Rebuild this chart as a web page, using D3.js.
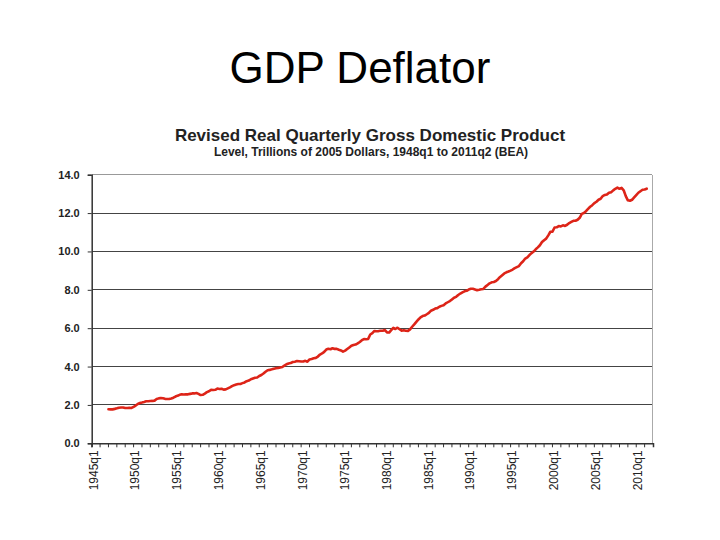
<!DOCTYPE html>
<html>
<head>
<meta charset="utf-8">
<script src="https://cdn.jsdelivr.net/npm/d3@7"></script>
<style>
  html, body { margin: 0; padding: 0; background: #fff; }
  svg { display: block; }
</style>
</head>
<body>
<svg id="chart" width="720" height="540"></svg>
<script>
// ---- Data (trillions of chained 2005 dollars, quarterly, first value = 1947q1) ----
const pageTitle = "GDP Deflator";
const chartTitle = "Revised Real Quarterly Gross Domestic Product";
const chartSubtitle = "Level, Trillions of 2005 Dollars, 1948q1 to 2011q2 (BEA)";

const axisFirstYear = 1945;
const axisLastYear = 2011;
const seriesStart = "1947q1";

const gdp = [
  1.772, 1.770, 1.768, 1.794,   // 1947
  1.823, 1.856, 1.866, 1.868,   // 1948
  1.842, 1.837, 1.853, 1.841,   // 1949
  1.904, 1.968, 2.051, 2.097,   // 1950
  2.124, 2.154, 2.188, 2.190,   // 1951
  2.206, 2.209, 2.226, 2.308,   // 1952
  2.342, 2.362, 2.350, 2.316,   // 1953
  2.308, 2.311, 2.336, 2.377,   // 1954
  2.436, 2.483, 2.525, 2.553,   // 1955
  2.543, 2.555, 2.552, 2.576,   // 1956
  2.601, 2.600, 2.623, 2.577,   // 1957
  2.514, 2.530, 2.591, 2.665,   // 1958
  2.712, 2.786, 2.778, 2.788,   // 1959
  2.852, 2.833, 2.846, 2.799,   // 1960
  2.812, 2.864, 2.914, 2.978,   // 1961
  3.030, 3.065, 3.090, 3.094,   // 1962
  3.135, 3.174, 3.240, 3.270,   // 1963
  3.338, 3.377, 3.414, 3.427,   // 1964
  3.510, 3.560, 3.637, 3.731,   // 1965
  3.810, 3.826, 3.856, 3.889,   // 1966
  3.917, 3.925, 3.952, 3.976,   // 1967
  4.052, 4.121, 4.163, 4.183,   // 1968
  4.238, 4.254, 4.285, 4.273,   // 1969
  4.263, 4.265, 4.299, 4.252,   // 1970
  4.372, 4.396, 4.432, 4.452,   // 1971
  4.521, 4.625, 4.682, 4.764,   // 1972
  4.885, 4.924, 4.903, 4.956,   // 1973
  4.920, 4.922, 4.877, 4.842,   // 1974
  4.778, 4.829, 4.912, 4.997,   // 1975
  5.084, 5.124, 5.148, 5.207,   // 1976
  5.282, 5.373, 5.436, 5.420,   // 1977
  5.441, 5.672, 5.740, 5.856,   // 1978
  5.842, 5.849, 5.866, 5.864,   // 1979
  5.903, 5.782, 5.772, 5.899,   // 1980
  6.019, 5.958, 6.024, 5.945,   // 1981
  5.870, 5.890, 5.864, 5.860,   // 1982
  5.940, 6.075, 6.198, 6.331,   // 1983
  6.455, 6.564, 6.631, 6.659,   // 1984
  6.727, 6.800, 6.912, 6.957,   // 1985
  7.021, 7.046, 7.118, 7.163,   // 1986
  7.200, 7.288, 7.352, 7.413,   // 1987
  7.500, 7.590, 7.634, 7.731,   // 1988
  7.806, 7.866, 7.921, 7.950,   // 1989
  8.015, 8.052, 8.052, 8.017,   // 1990
  7.983, 8.004, 8.028, 8.046,   // 1991
  8.166, 8.252, 8.339, 8.391,   // 1992
  8.409, 8.457, 8.552, 8.674,   // 1993
  8.763, 8.855, 8.912, 8.954,   // 1994
  9.001, 9.056, 9.133, 9.186,   // 1995
  9.237, 9.383, 9.486, 9.630,   // 1996
  9.695, 9.814, 9.911, 9.996,   // 1997
  10.112, 10.211, 10.324, 10.489, // 1998
  10.586, 10.669, 10.840, 11.025, // 1999
  11.033, 11.248, 11.258, 11.325, // 2000
  11.305, 11.360, 11.332, 11.391, // 2001
  11.478, 11.538, 11.596, 11.599, // 2002
  11.651, 11.755, 11.958, 12.000, // 2003
  12.097, 12.218, 12.329, 12.412, // 2004
  12.520, 12.591, 12.695, 12.746, // 2005
  12.887, 12.944, 12.965, 13.060, // 2006
  13.090, 13.183, 13.264, 13.326, // 2007
  13.266, 13.310, 13.186, 12.884, // 2008
  12.664, 12.641, 12.694, 12.814, // 2009
  12.938, 13.059, 13.140, 13.216, // 2010
  13.228, 13.271                  // 2011
];

const yTicks = [0, 2, 4, 6, 8, 10, 12, 14];
const xTickLabels = ["1945q1", "1950q1", "1955q1", "1960q1", "1965q1", "1970q1", "1975q1",
                     "1980q1", "1985q1", "1990q1", "1995q1", "2000q1", "2005q1", "2010q1"];

// ---- Derived categories ----
const quarters = [];
for (let y = axisFirstYear; y <= axisLastYear; y++) for (let q = 1; q <= 4; q++) quarters.push(y + "q" + q);
const startIdx = quarters.indexOf(seriesStart);
const series = gdp.map((v, i) => ({ q: quarters[startIdx + i], v }));

// ---- Layout ----
const svg = d3.select("#chart");
const font = "'Liberation Sans', Arial, Helvetica, sans-serif";
const plot = { left: 91.7, right: 652, top: 174.7, bottom: 443.3 };

const x = d3.scaleBand().domain(quarters).range([plot.left, plot.right + 1]).paddingInner(0).paddingOuter(0);
const y = d3.scaleLinear().domain([0, 14]).range([plot.bottom, plot.top]);

// Page title
svg.append("text").attr("x", 360).attr("y", 83).attr("text-anchor", "middle")
  .attr("font-family", font).attr("font-size", 44).attr("fill", "#000").text(pageTitle);

// Chart titles
svg.append("text").attr("x", 370).attr("y", 141).attr("text-anchor", "middle")
  .attr("font-family", font).attr("font-size", 17).attr("font-weight", "bold").attr("fill", "#222").text(chartTitle);
svg.append("text").attr("x", 371).attr("y", 156).attr("text-anchor", "middle")
  .attr("font-family", font).attr("font-size", 12).attr("font-weight", "bold").attr("fill", "#222").text(chartSubtitle);

// Gridlines
svg.append("g").selectAll("line").data(yTicks.filter(d => d > 0)).join("line")
  .attr("x1", plot.left).attr("x2", plot.right)
  .attr("y1", d => y(d)).attr("y2", d => y(d))
  .attr("stroke", d => d === 14 ? "#999" : "#444").attr("stroke-width", 1)
  .attr("shape-rendering", "crispEdges");

// Right border
svg.append("line").attr("x1", plot.right).attr("x2", plot.right).attr("y1", plot.top).attr("y2", plot.bottom)
  .attr("stroke", "#aaa").attr("stroke-width", 1).attr("shape-rendering", "crispEdges");

// Y axis
const yAxis = d3.axisLeft(y).tickValues(yTicks).tickFormat(d3.format(".1f")).tickSize(4).tickPadding(8);
const gy = svg.append("g").attr("transform", `translate(${plot.left},0)`).call(yAxis);
gy.select(".domain").attr("stroke", "#333").attr("stroke-width", 1.5);
gy.selectAll(".tick line").attr("stroke", "#333");
gy.selectAll("text").attr("font-family", font).attr("font-size", 11).attr("font-weight", "bold").attr("fill", "#222");

// X axis: ticks every year (q1), labels every 5 years
const yearTicks = quarters.filter(q => q.endsWith("q1"));
const xAxis = d3.axisBottom(x).tickValues(yearTicks).tickSize(4).tickFormat(d => xTickLabels.includes(d) ? d : "");
const gx = svg.append("g").attr("transform", `translate(0,${plot.bottom})`).call(xAxis);
gx.selectAll(".tick").attr("transform", d => `translate(${x(d)},0)`);
gx.select(".domain").attr("stroke", "#333").attr("stroke-width", 1.5);
gx.selectAll(".tick line").attr("stroke", "#333");
gx.selectAll("text")
  .attr("font-family", font).attr("font-size", 12).attr("fill", "#222")
  .attr("text-anchor", "end")
  .attr("x", -7).attr("y", 0).attr("dy", "0.35em")
  .attr("transform", "translate(1.6,0) rotate(-90)");

// Line
const line = d3.line().x(d => x(d.q)).y(d => y(d.v));
svg.append("path").datum(series).attr("d", line)
  .attr("fill", "none").attr("stroke", "#dd2418").attr("stroke-width", 2.6)
  .attr("stroke-linejoin", "round").attr("stroke-linecap", "round");
</script>
</body>
</html>
